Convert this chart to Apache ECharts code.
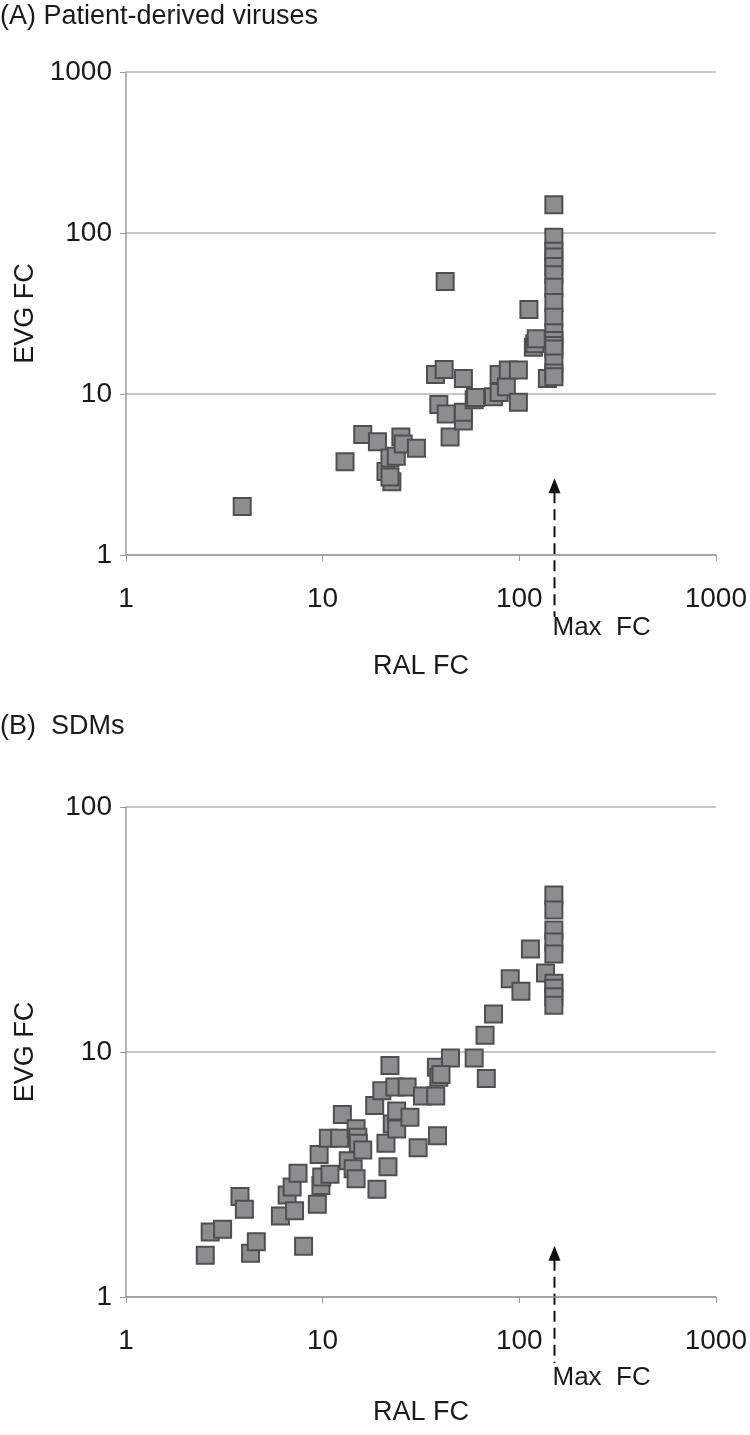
<!DOCTYPE html>
<html>
<head>
<meta charset="utf-8">
<script src="https://cdn.jsdelivr.net/npm/echarts@6/dist/echarts.min.js"></script>
<style>
html,body{margin:0;padding:0;background:#fff;}
#c{width:750px;height:1435px;}
</style>
</head>
<body>
<div id="c"></div>
<script>
// ---- Data ----
const titleA = '(A) Patient-derived viruses';
const titleB = '(B)  SDMs';
const xName = 'RAL FC';
const yName = 'EVG FC';
const maxFCLabel = 'Max  FC';
const maxFC = 150;
const arrowTipA = 3.0;
const arrowTipB = 1.62;

const ralA = [3.9, 13, 16, 19, 21, 22, 22.5, 22, 23.7, 25, 25.7, 30, 37.5, 39, 41.5, 42, 42.5, 44.5, 52, 52, 52, 59, 60, 74, 79, 79, 86, 88, 99, 99, 112, 118, 120, 122, 139,
  150, 150, 150, 150, 150, 150, 150, 150, 150, 150, 150, 150, 150, 150, 150, 150];
const evgA = [2.0, 3.8, 5.6, 5.05, 3.3, 4.0, 2.85, 3.05, 4.1, 5.4, 4.9, 4.6, 13.2, 8.6, 14.2, 50, 7.5, 5.4, 12.5, 6.8, 7.7, 9.2, 9.5, 9.6, 10.2, 13.2, 11.1, 14.1, 14.1, 8.9, 33.5, 19.5, 20.5, 22, 12.5,
  150, 94, 77, 71, 62, 55, 46, 37, 30, 24, 21.5, 20, 19, 15.6, 13.5, 12.8];

const ralB = [2.53, 2.68, 3.1, 3.8, 4.0, 4.3, 4.6, 6.1, 6.6, 7.0, 7.2, 7.5, 8.0, 9.4, 9.8, 9.9, 10.9, 9.6, 10.7, 12.2, 12.6, 13.5, 14.3, 14.8, 14.8, 15.1, 15.2, 16.0, 18.9, 18.4, 20, 21, 21.5, 22, 22.6, 23.8, 23.8, 23.3, 26.9, 27.8, 30.6, 32.2, 37.6, 38.4, 37.9, 39, 44.7, 40, 59, 67, 68, 74, 90, 102, 114, 136,
  150, 150, 150, 150, 150, 150, 150, 150, 150];
const evgB = [1.48, 1.84, 1.89, 2.57, 2.28, 1.51, 1.68, 2.14, 2.61, 2.81, 2.25, 3.2, 1.61, 2.39, 2.85, 3.09, 3.17, 3.82, 4.45, 4.45, 5.56, 3.6, 3.34, 3.04, 4.86, 4.49, 4.24, 3.98, 2.75, 6.05, 6.94, 4.24, 3.4, 8.8, 5.08, 5.74, 4.85, 7.2, 7.2, 5.42, 4.07, 6.62, 6.62, 4.55, 8.67, 7.88, 9.45, 8.1, 9.45, 11.7, 7.8, 14.3, 19.9, 17.7, 26.3, 21,
  43.7, 38, 31.5, 28.1, 25.1, 19.1, 18.2, 16.8, 15.5];

const xRange = [1, 1000];
const yRangeA = [1, 1000];
const yRangeB = [1, 100];

// ---- Chart ----
const FONT = "'Liberation Sans', Arial, sans-serif";
const TXT = '#1a1a1a';
const pairs = (xs, ys) => xs.map((x, i) => [x, ys[i]]);
const plain = v => String(Math.round(v));

const chart = echarts.init(document.getElementById('c'), null, {renderer: 'canvas'});

function xAxisCfg(gridIndex, nameGap) {
  return {
    type: 'log', logBase: 10, gridIndex, min: xRange[0], max: xRange[1],
    name: xName, nameLocation: 'middle', nameGap,
    nameTextStyle: {fontFamily: FONT, fontSize: 27, color: TXT},
    axisLine: {show: true, lineStyle: {color: '#9a9a9a', width: 1.5}},
    axisTick: {show: true, length: 6, lineStyle: {color: '#9a9a9a', width: 1}},
    axisLabel: {fontFamily: FONT, fontSize: 28, color: TXT, margin: 30, formatter: plain},
    splitLine: {show: false}, minorTick: {show: false}
  };
}
function yAxisCfg(gridIndex, range) {
  return {
    type: 'log', logBase: 10, gridIndex, min: range[0], max: range[1],
    name: yName, nameLocation: 'middle', nameGap: 87,
    nameTextStyle: {fontFamily: FONT, fontSize: 27, color: TXT},
    axisLine: {show: true, lineStyle: {color: '#9a9a9a', width: 1.5}},
    axisTick: {show: true, length: 6, lineStyle: {color: '#9a9a9a', width: 1}},
    axisLabel: {fontFamily: FONT, fontSize: 28, color: TXT, margin: 14, formatter: plain},
    splitLine: {show: true, lineStyle: {color: '#b4b4b4', width: 1.5}},
    minorTick: {show: false}
  };
}
const sym = {
  type: 'scatter', symbol: 'rect', symbolSize: 17, animation: false,
  itemStyle: {color: '#8d8d90', borderColor: '#4f4f4f', borderWidth: 2, opacity: 1}
};

chart.setOption({
  animation: false,
  backgroundColor: '#fff',
  grid: [
    {left: 126, right: 33, top: 72, height: 483},
    {left: 126, right: 33, top: 807, height: 490}
  ],
  xAxis: [xAxisCfg(0, 98), xAxisCfg(1, 102)],
  yAxis: [yAxisCfg(0, yRangeA), yAxisCfg(1, yRangeB)],
  series: [
    Object.assign({}, sym, {xAxisIndex: 0, yAxisIndex: 0, data: pairs(ralA, evgA)}),
    Object.assign({}, sym, {xAxisIndex: 1, yAxisIndex: 1, data: pairs(ralB, evgB)})
  ]
});

function arrow(gridIdx, tipVal, bottomOffset, labelOffset) {
  const tip = chart.convertToPixel({gridIndex: gridIdx}, [maxFC, tipVal]);
  const base = chart.convertToPixel({gridIndex: gridIdx}, [maxFC, 1]);
  const x = Math.round(tip[0]) + 0.5;
  const yTip = tip[1];
  return [
    {type: 'polygon', shape: {points: [[x, yTip], [x - 6, yTip + 15], [x + 6, yTip + 15]]}, style: {fill: '#111'}},
    {type: 'line', shape: {x1: x, y1: yTip + 14, x2: x, y2: base[1] + bottomOffset},
      style: {stroke: '#111', lineWidth: 2, lineDash: [11, 6]}},
    {type: 'text', x: x - 2, y: base[1] + labelOffset,
      style: {text: maxFCLabel, font: "26px 'Liberation Sans', Arial, sans-serif", fill: TXT, textVerticalAlign: 'middle'}}
  ];
}

chart.setOption({
  graphic: [
    {type: 'text', left: 0, top: 3, style: {text: titleA, font: "27px 'Liberation Sans', Arial, sans-serif", fill: TXT}},
    {type: 'text', left: 0, top: 713, style: {text: titleB, font: "27px 'Liberation Sans', Arial, sans-serif", fill: TXT}},
    ...arrow(0, arrowTipA, 62, 73),
    ...arrow(1, arrowTipB, 66, 81)
  ]
});
</script>
</body>
</html>
